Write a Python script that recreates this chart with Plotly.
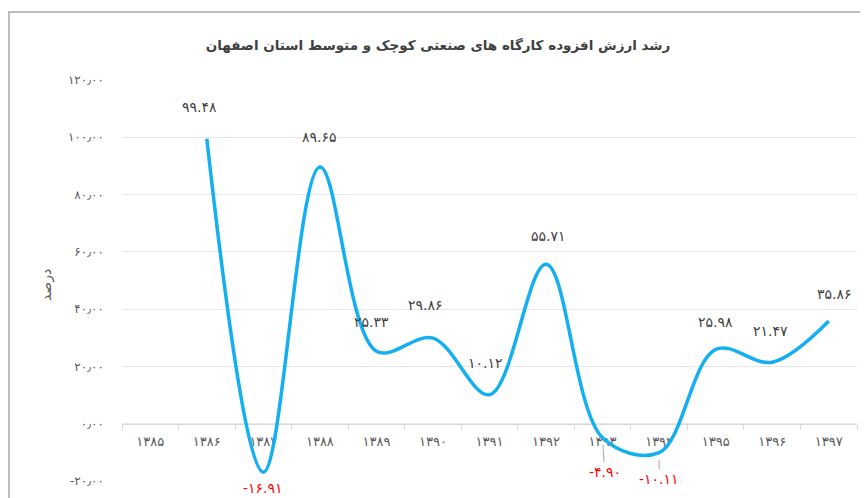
import plotly.graph_objects as go

# ---- data ----
years = ["۱۳۸۵", "۱۳۸۶", "۱۳۸۷", "۱۳۸۸", "۱۳۸۹", "۱۳۹۰", "۱۳۹۱",
         "۱۳۹۲", "۱۳۹۳", "۱۳۹۴", "۱۳۹۵", "۱۳۹۶", "۱۳۹۷"]
growth = [None, 99.48, -16.91, 89.65, 25.33, 29.86, 10.12,
          55.71, -4.90, -10.11, 25.98, 21.47, 35.86]
y_tickvals = [-20, 0, 20, 40, 60, 80, 100, 120]
y_ticktext = ["-۲۰٫۰۰", "۰٫۰۰", "۲۰٫۰۰", "۴۰٫۰۰", "۶۰٫۰۰", "۸۰٫۰۰", "۱۰۰٫۰۰", "۱۲۰٫۰۰"]
title_text = "رشد ارزش افزوده کارگاه های صنعتی کوچک و متوسط استان اصفهان"
y_title = "درصد"

# label offsets (pixels) per point: (xshift, yshift, leader line)
label_offsets = [None, (-7, 32, False), (0, -16, False), (0, 30, False),
                 (-5, 29, False), (-7, 33, False), (-4, 32, False),
                 (2, 28, False), (2, -34, True), (0, -26, True),
                 (0, 27, False), (-2, 31, False), (6, 27, False)]

FA = str.maketrans("0123456789", "۰۱۲۳۴۵۶۷۸۹")


def fa_num(v):
    return f"{v:.2f}".translate(FA)


FONT = "DejaVu Sans"
# the page body has an 8px margin, so the figure is sized/offset to compensate
PAD = 8
W, H = 868 - PAD, 498 - PAD
L, R, T, B = 122 - PAD, 11, 80 - PAD, 17
plot_w = W - L - R
plot_h = H - T - B

fig = go.Figure()
fig.add_trace(go.Scatter(
    x=years, y=growth, mode="lines",
    line=dict(color="#14aff0", width=3.5, shape="spline", smoothing=1),
    connectgaps=False, hoverinfo="skip", showlegend=False,
))

annotations = []
for yr, v, off in zip(years, growth, label_offsets):
    if v is None:
        continue
    col = "#ff0000" if v < 0 else "#404040"
    if off[2]:
        annotations.append(dict(
            x=yr, y=v, xref="x", yref="y", text=fa_num(v), showarrow=True,
            ax=off[0], ay=-off[1], arrowhead=0, arrowwidth=1,
            arrowcolor="#a6a6a6", standoff=7,
            font=dict(family=FONT, size=14, color=col),
        ))
    else:
        annotations.append(dict(
            x=yr, y=v, xref="x", yref="y", text=fa_num(v), showarrow=False,
            xshift=off[0], yshift=off[1],
            font=dict(family=FONT, size=14, color=col),
        ))

# y axis title
annotations.append(dict(
    x=(46 - 122) / plot_w, y=(481 - 285) / plot_h, xref="paper", yref="paper",
    xanchor="center", yanchor="middle",
    text=y_title, showarrow=False, textangle=-90,
    font=dict(family=FONT, size=14, color="#595959"),
))

fig.update_layout(
    width=W, height=H,
    margin=dict(l=L, r=R, t=T, b=B),
    paper_bgcolor="white", plot_bgcolor="white",
    title=dict(text=f"<b>{title_text}</b>", x=0.5, xanchor="center",
               y=1 - (45 - PAD) / H, yanchor="middle",
               font=dict(family=FONT, size=13.5, color="#404040")),
    xaxis=dict(
        type="category", categoryorder="array", categoryarray=years,
        range=[-0.5, len(years) - 0.5],
        anchor="free", position=(0 - (-20)) / 140,
        showline=True, linecolor="#d9d9d9", linewidth=1,
        ticks="outside", tickson="boundaries", ticklen=5, tickcolor="#d9d9d9",
        ticklabelstandoff=6,
        showgrid=False, zeroline=False, layer="below traces",
        tickfont=dict(family=FONT, size=13, color="#595959"),
    ),
    yaxis=dict(
        range=[-20, 120], tickvals=y_tickvals, ticktext=y_ticktext,
        showgrid=True, gridcolor="#e6e6e6", gridwidth=1,
        zeroline=False, showline=False, ticks="",
        ticklabelstandoff=17,
        tickfont=dict(family=FONT, size=12, color="#595959"),
    ),
    annotations=annotations,
    shapes=[dict(type="rect", xref="paper", yref="paper",
                 x0=(1 - L) / plot_w, x1=1.1,
                 y0=-0.2, y1=1 + (80 - 12) / plot_h,
                 line=dict(color="#a6a6a6", width=1.5), layer="below")],
)

fig.write_html("out.html")
